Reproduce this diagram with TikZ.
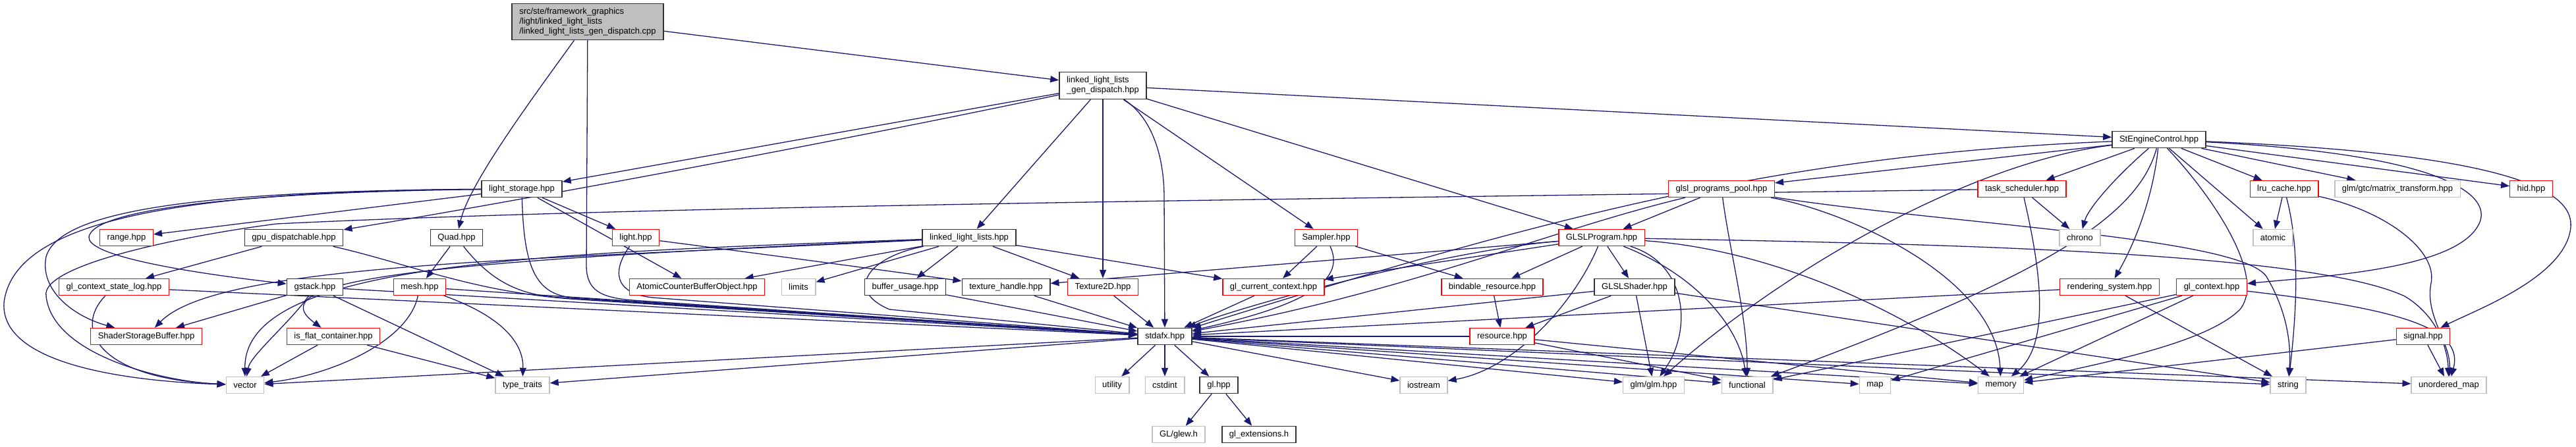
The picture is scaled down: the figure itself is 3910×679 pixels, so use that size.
\documentclass[tikz,border=0pt]{standalone}
\usepackage{fontspec}
\setmainfont{Liberation Sans}
\usetikzlibrary{arrows.meta}
\definecolor{mblue}{HTML}{191970}
\definecolor{gbord}{HTML}{BFBFBF}
\definecolor{topfill}{HTML}{BFBFBF}
\pgfdeclarelayer{edges}
\pgfsetlayers{edges,main}
\tikzset{
 nd/.style={rectangle, draw, fill=white, inner xsep=11pt, inner ysep=0pt, minimum height=25pt, line width=1.4pt, font=\fontsize{13}{15}\selectfont, text=black},
 blk/.style={nd, draw=black!80, line width=1.7pt},
 rd/.style={nd, draw=red},
 gr/.style={nd, draw=gbord},
 topnode/.style={nd, fill=topfill, draw=black!80, line width=1.7pt, align=left, minimum height=55pt},
 e/.style={draw=mblue, line width=1.3pt, -{Triangle[length=13pt,width=10pt]}},
}
\begin{document}
\begin{tikzpicture}[x=1pt,y=-1pt]
\useasboundingbox (0,0) rectangle (3910,679);
% nodes
\node[topnode] (top) at (892,33) {src/ste/framework\_graphics\\/light/linked\_light\_lists\\/linked\_light\_lists\_gen\_dispatch.cpp};
\node[blk, align=left, minimum height=41pt] (gd) at (1674,130) {linked\_light\_lists\\\_gen\_dispatch.hpp};
\node[blk] (sec) at (3277,212) {StEngineControl.hpp};
\node[blk] (ls) at (792,287) {light\_storage.hpp};
\node[rd] (gpp) at (2613,287) {glsl\_programs\_pool.hpp};
\node[rd] (ts) at (3069,287) {task\_scheduler.hpp};
\node[rd] (lru) at (3467,287) {lru\_cache.hpp};
\node[gr] (gtc) at (3639,287) {glm/gtc/matrix\_transform.hpp};
\node[rd] (hid) at (3842,287) {hid.hpp};
\node[rd] (range) at (192,361) {range.hpp};
\node[blk] (gpud) at (446,361) {gpu\_dispatchable.hpp};
\node[blk] (quad) at (693,361) {Quad.hpp};
\node[rd] (light) at (965,361) {light.hpp};
\node[blk] (lll) at (1471,361) {linked\_light\_lists.hpp};
\node[rd] (samp) at (2013,361) {Sampler.hpp};
\node[rd] (glslp) at (2431,361) {GLSLProgram.hpp};
\node[gr] (chrono) at (3157,361) {chrono};
\node[gr] (atomic) at (3450,361) {atomic};
\node[rd] (gcsl) at (173,436) {gl\_context\_state\_log.hpp};
\node[blk] (gstack) at (478,436) {gstack.hpp};
\node[rd] (mesh) at (637,436) {mesh.hpp};
\node[rd] (acbo) at (1058,436) {AtomicCounterBufferObject.hpp};
\node[gr] (limits) at (1212,436) {limits};
\node[blk] (bu) at (1374,436) {buffer\_usage.hpp};
\node[blk] (th) at (1527,436) {texture\_handle.hpp};
\node[rd] (tex2d) at (1674,436) {Texture2D.hpp};
\node[rd] (gcc) at (1933,436) {gl\_current\_context.hpp};
\node[rd] (bind) at (2265,436) {bindable\_resource.hpp};
\node[blk] (shader) at (2481,436) {GLSLShader.hpp};
\node[rd] (rs) at (3202,436) {rendering\_system.hpp};
\node[rd] (glc) at (3357,436) {gl\_context.hpp};
\node[rd] (ssb) at (222,511) {ShaderStorageBuffer.hpp};
\node[rd] (ifc) at (506,511) {is\_flat\_container.hpp};
\node[blk] (stdafx) at (1768,511) {stdafx.hpp};
\node[rd] (res) at (2280,511) {resource.hpp};
\node[rd] (signal) at (3678,511) {signal.hpp};
\node[gr] (vector) at (372,585) {vector};
\node[gr] (tt) at (793,585) {type\_traits};
\node[gr] (utility) at (1688,585) {utility};
\node[gr] (cstdint) at (1768,585) {cstdint};
\node[blk] (glhpp) at (1850,585) {gl.hpp};
\node[gr] (iostream) at (2161,585) {iostream};
\node[gr] (glm) at (2510,585) {glm/glm.hpp};
\node[gr] (functional) at (2652,585) {functional};
\node[gr] (map) at (2846,585) {map};
\node[gr] (memory) at (3037,585) {memory};
\node[gr] (string) at (3473,585) {string};
\node[gr] (umap) at (3717,585) {unordered\_map};
\node[gr] (glew) at (1789,660) {GL/glew.h};
\node[blk] (glext) at (1911,660) {gl\_extensions.h};
% edges
\begin{pgfonlayer}{edges}
% top
\draw[e] (top) -- (gd);
\draw[e] (top) .. controls (800,160) and (712,280) .. (quad);
\draw[e] (top) -- (890,405) .. controls (891,440) and (910,452) .. (960,456) -- (stdafx);
% gen dispatch
\draw[e] (gd) -- (ls);
\draw[e] (gd) .. controls (1200,230) and (700,320) .. (gpud);
\draw[e] (gd) -- (lll);
\draw[e] (gd) -- (tex2d);
\draw[e] (gd) .. controls (1750,180) and (1767,240) .. (1767,300) -- (stdafx);
\draw[e] (gd) -- (samp);
\draw[e] (gd) -- (glslp);
\draw[e] (gd) -- (sec);
% StEngineControl
\draw[e] (sec) .. controls (2700,235) and (2350,330) .. (stdafx);
\draw[e] (sec) -- (gpp);
\draw[e] (sec) .. controls (3000,245) and (2720,400) .. (glm);
\draw[e] (sec) -- (ts);
\draw[e] (sec) .. controls (3215,265) and (3170,315) .. (chrono);
\draw[e] (sec) .. controls (3245,330) and (3100,420) .. (functional);
\draw[e] (sec) .. controls (3268,300) and (3240,370) .. (rs);
\draw[e] (sec) .. controls (3360,300) and (3440,420) .. (3400,470) .. controls (3350,520) and (3200,550) .. (memory);
\draw[e] (sec) -- (atomic);
\draw[e] (sec) -- (lru);
\draw[e] (sec) -- (gtc);
\draw[e] (sec) -- (hid);
\draw[e] (sec) .. controls (3720,235) and (3790,300) .. (3760,345) .. controls (3720,410) and (3520,420) .. (glc);
\draw[e] (sec) .. controls (3850,235) and (3905,300) .. (3902,345) .. controls (3895,420) and (3760,470) .. (signal);
% task scheduler
\draw[e] (ts) -- (chrono);
\draw[e] (ts) .. controls (3095,400) and (3115,520) .. (memory);
\draw[e] (ts) .. controls (2000,302) and (1000,312) .. (420,340) .. controls (300,355) and (60,400) .. (70,450) .. controls (80,540) and (250,580) .. (vector);
% glsl programs pool
\draw[e] (gpp) -- (glslp);
\draw[e] (gpp) .. controls (2350,350) and (2150,440) .. (stdafx);
\draw[e] (gpp) .. controls (2625,380) and (2652,480) .. (functional);
\draw[e] (gpp) .. controls (2800,320) and (3030,420) .. (memory);
\draw[e] (gpp) .. controls (2950,340) and (3400,360) .. (3440,420) .. controls (3470,470) and (3478,520) .. (string);
% lru
\draw[e] (lru) -- (atomic);
\draw[e] (lru) .. controls (3492,380) and (3485,480) .. (string);
\draw[e] (lru) .. controls (3620,320) and (3700,380) .. (3690,430) .. controls (3680,480) and (3720,520) .. (umap);
% rendering system, gl_context, signal
\draw[e] (rs) -- (stdafx);
\draw[e] (rs) -- (string);
\draw[e] (glc) -- (functional);
\draw[e] (glc) -- (map);
\draw[e] (glc) -- (memory);
\draw[e] (glc) .. controls (3650,470) and (3740,500) .. (umap);
\draw[e] (signal) -- (memory);
\draw[e] (signal) -- (umap);
% light storage
\draw[e] (ls) -- (range);
\draw[e] (ls) .. controls (350,292) and (140,320) .. (135,360) .. controls (132,385) and (250,410) .. (gstack);
\draw[e] (ls) .. controls (300,290) and (90,320) .. (70,390) .. controls (60,440) and (110,480) .. (ssb);
\draw[e] (ls) .. controls (250,290) and (20,340) .. (6,460) .. controls (0,560) and (220,580) .. (vector);
\draw[e] (ls) .. controls (795,400) and (810,448) .. (870,452) -- (stdafx);
\draw[e] (ls) -- (acbo);
\draw[e] (ls) -- (light);
% light
\draw[e] (light) .. controls (930,410) and (930,445) .. (990,452) -- (stdafx);
\draw[e] (light) .. controls (1150,385) and (1300,405) .. (th);
% gpu dispatchable, quad
\draw[e] (gpud) -- (gcsl);
\draw[e] (gpud) .. controls (620,400) and (720,445) .. (880,455) -- (stdafx);
\draw[e] (quad) -- (mesh);
\draw[e] (quad) .. controls (740,420) and (780,448) .. (850,452) -- (stdafx);
% gl_context_state_log, gstack, mesh, is_flat_container
\draw[e] (gcsl) .. controls (110,500) and (150,575) .. (vector);
\draw[e] (gcsl) -- (stdafx);
\draw[e] (gstack) -- (ssb);
\draw[e] (gstack) .. controls (440,490) and (380,540) .. (vector);
\draw[e] (gstack) -- (tt);
\draw[e] (gstack) -- (stdafx);
\draw[e] (mesh) .. controls (620,520) and (500,570) .. (vector);
\draw[e] (mesh) .. controls (760,480) and (795,520) .. (tt);
\draw[e] (mesh) -- (stdafx);
\draw[e] (ifc) -- (vector);
\draw[e] (ifc) -- (tt);
% linked light lists
\draw[e] (lll) -- (bu);
\draw[e] (lll) -- (tex2d);
\draw[e] (lll) -- (gcc);
\draw[e] (lll) -- (acbo);
\draw[e] (lll) -- (limits);
\draw[e] (lll) .. controls (800,395) and (330,400) .. (ssb);
\draw[e] (lll) .. controls (800,385) and (370,400) .. (vector);
\draw[e] (lll) .. controls (700,395) and (380,420) .. (ifc);
\draw[e] (lll) .. controls (1320,390) and (1280,440) .. (1350,470) -- (stdafx);
\draw[e] (bu) -- (stdafx);
\draw[e] (th) -- (stdafx);
\draw[e] (tex2d) -- (stdafx);
\draw[e] (gcc) -- (stdafx);
% sampler
\draw[e] (samp) -- (gcc);
\draw[e] (samp) -- (bind);
\draw[e] (samp) .. controls (2040,420) and (2000,460) .. (stdafx);
% GLSL program
\draw[e] (glslp) -- (bind);
\draw[e] (glslp) -- (shader);
\draw[e] (glslp) -- (gcc);
\draw[e] (glslp) -- (th);
\draw[e] (glslp) .. controls (2390,460) and (2300,560) .. (iostream);
\draw[e] (glslp) .. controls (2560,400) and (2570,500) .. (glm);
\draw[e] (glslp) .. controls (2200,380) and (1900,460) .. (stdafx);
\draw[e] (glslp) .. controls (2700,380) and (2900,480) .. (memory);
\draw[e] (glslp) .. controls (2580,420) and (2640,500) .. (functional);
\draw[e] (glslp) .. controls (2900,370) and (3500,380) .. (3650,450) .. controls (3700,480) and (3715,530) .. (umap);
\draw[e] (bind) -- (res);
\draw[e] (shader) -- (res);
\draw[e] (shader) -- (glm);
\draw[e] (shader) -- (stdafx);
\draw[e] (shader) -- (string);
\draw[e] (res) -- (stdafx);
\draw[e] (res) -- (functional);
\draw[e] (res) -- (memory);
% stdafx
\draw[e] (stdafx) -- (utility);
\draw[e] (stdafx) -- (cstdint);
\draw[e] (stdafx) -- (glhpp);
\draw[e] (stdafx) -- (vector);
\draw[e] (stdafx) -- (tt);
\draw[e] (stdafx) -- (iostream);
\draw[e] (stdafx) -- (glm);
\draw[e] (stdafx) -- (functional);
\draw[e] (stdafx) -- (map);
\draw[e] (stdafx) -- (memory);
\draw[e] (stdafx) -- (string);
\draw[e] (stdafx) -- (umap);
\draw[e] (glhpp) -- (glew);
\draw[e] (glhpp) -- (glext);
\end{pgfonlayer}
\end{tikzpicture}
\end{document}
